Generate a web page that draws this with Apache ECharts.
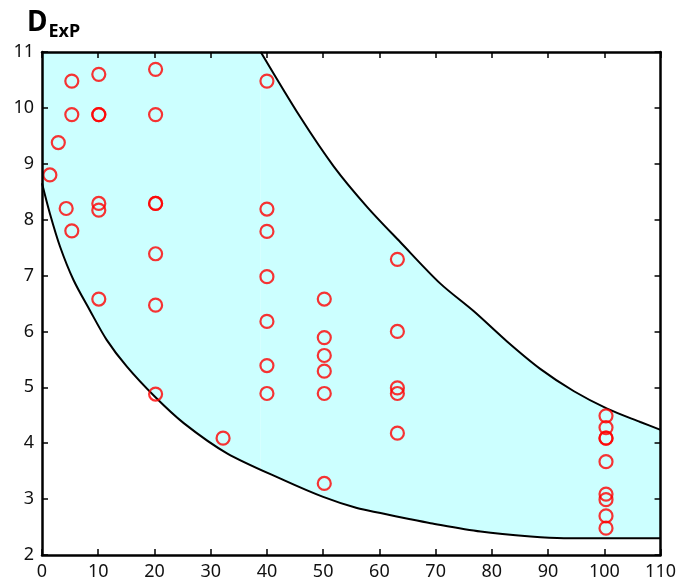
<!DOCTYPE html>
<html><head><meta charset="utf-8">
<script src="https://cdn.jsdelivr.net/npm/echarts@6/dist/echarts.min.js"></script>
<style>html,body{margin:0;padding:0;background:#fff}#c{width:679px;height:587px}</style>
</head><body><div id="c"></div>
<script>
// Upper envelope (band top), clipped at the axis top before x = 38.9
const topX = [0, 38.9];
const topY = [11, 11];
const upperX = [38.9, 45.9, 51.9, 57.8, 63.7, 70.8, 76.8, 82.7, 88.6, 94.6, 100.5, 106.4, 110];
const upperY = [11, 9.84, 8.95, 8.23, 7.60, 6.86, 6.36, 5.82, 5.33, 4.93, 4.62, 4.38, 4.24];
// Lower envelope
const lowerX = [0, 1.4, 3.2, 5.6, 8.5, 11.5, 15.1, 20, 25.2, 32.9, 43, 50, 56, 60.2, 65.5, 69.1, 78, 86.9, 92.8, 110];
const lowerY = [8.65, 8.11, 7.52, 6.92, 6.38, 5.85, 5.37, 4.84, 4.36, 3.82, 3.34, 3.04, 2.84, 2.75, 2.64, 2.57, 2.42, 2.33, 2.30, 2.30];
// Measured points
const pointX = [1.4, 2.9, 4.3, 5.3, 5.3, 5.3,
  10.1, 10.1, 10.1, 10.1, 10.1, 10.1,
  20.2, 20.2, 20.2, 20.2, 20.2, 20.2, 20.2,
  32.2,
  40, 40, 40, 40, 40, 40, 40,
  50.2, 50.2, 50.2, 50.2, 50.2, 50.2,
  63.2, 63.2, 63.2, 63.2, 63.2,
  100.3, 100.3, 100.3, 100.3, 100.3, 100.3, 100.3, 100.3, 100.3];
const pointY = [8.8, 9.38, 8.2, 10.48, 9.88, 7.8,
  10.6, 9.88, 9.88, 8.29, 8.17, 6.58,
  10.69, 9.88, 8.29, 8.29, 7.39, 6.47, 4.88,
  4.09,
  10.48, 8.19, 7.79, 6.98, 6.18, 5.39, 4.89,
  6.58, 5.89, 5.57, 5.29, 4.89, 3.28,
  7.29, 6.0, 4.99, 4.89, 4.18,
  4.49, 4.28, 4.09, 4.09, 3.67, 3.09, 2.99, 2.70, 2.48];
const xTicks = {min: 0, max: 110, interval: 10};
const yTicks = {min: 2, max: 11, interval: 1};

const zip = (a, b) => a.map((v, i) => [v, b[i]]);
const font = '"Noto Sans", "Liberation Sans", sans-serif';
const axisBase = (extra) => Object.assign({
  type: 'value', z: 10,
  axisLine: {show: true, onZero: false, lineStyle: {color: '#000', width: 2.5}},
  axisTick: {show: true, inside: true, length: 6, lineStyle: {color: '#000', width: 1.5}},
  splitLine: {show: false},
  axisLabel: {color: '#111', fontSize: 18, fontFamily: font, margin: 8}
}, extra);

const chart = echarts.init(document.getElementById('c'));
chart.setOption({
  backgroundColor: '#fff',
  animation: false,
  title: {
    text: '{a|D}{b|ExP}', left: 22, top: 0,
    textStyle: {rich: {
      a: {fontSize: 28, fontWeight: 'bold', fontFamily: font, color: '#000', lineHeight: 32, verticalAlign: 'bottom'},
      b: {fontSize: 18, fontWeight: 'bold', fontFamily: font, color: '#000', verticalAlign: 'bottom', padding: [0, 0, -4, 1]}
    }}
  },
  grid: {left: 42, right: 18, top: 52, bottom: 32},
  xAxis: [
    axisBase(Object.assign({position: 'bottom'}, xTicks)),
    axisBase(Object.assign({position: 'top', axisLabel: {show: false}}, xTicks))
  ],
  yAxis: [
    axisBase(Object.assign({position: 'left'}, yTicks)),
    axisBase(Object.assign({position: 'right', axisLabel: {show: false}}, yTicks))
  ],
  series: [
    {type: 'line', data: zip(topX, topY), symbol: 'none',
     lineStyle: {width: 0}, areaStyle: {color: '#ccffff', opacity: 1, origin: 'start'}, z: 1},
    {type: 'line', data: zip(upperX, upperY), smooth: 0.3, symbol: 'none',
     lineStyle: {color: '#000', width: 2}, areaStyle: {color: '#ccffff', opacity: 1, origin: 'start'}, z: 1},
    {type: 'line', data: zip(lowerX, lowerY), smooth: 0.3, symbol: 'none',
     lineStyle: {color: '#000', width: 2}, areaStyle: {color: '#ffffff', opacity: 1, origin: 'start'}, z: 2},
    {type: 'scatter', data: zip(pointX, pointY), symbol: 'circle', symbolSize: 13,
     itemStyle: {color: 'rgba(0,0,0,0)', borderColor: '#ff0000', borderWidth: 2.2}, z: 5}
  ]
});
</script></body></html>
